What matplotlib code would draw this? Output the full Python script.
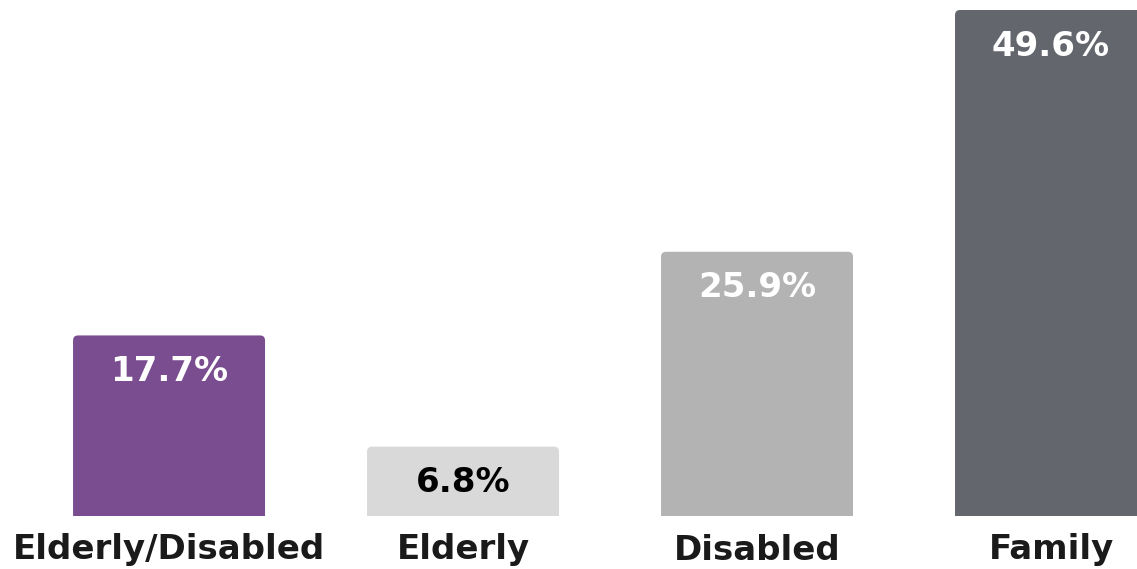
import matplotlib.pyplot as plt
from matplotlib.patches import FancyBboxPatch
from matplotlib.transforms import offset_copy

# Data
categories = ["Elderly/Disabled", "Elderly", "Disabled", "Family"]
shares = [17.7, 6.8, 25.9, 49.6]
labels = ["17.7%", "6.8%", "25.9%", "49.6%"]
bar_colors = ["#7a4d90", "#d9d9d9", "#b3b3b3", "#63666d"]
text_colors = ["white", "black", "white", "white"]

plt.rcParams["font.family"] = ["DejaVu Sans"]

fig = plt.figure(figsize=(11.37, 5.69), dpi=100)
ax = fig.add_axes([0, 53 / 569, 1, 516 / 569])

x = range(len(categories))
width = 0.653
bars = ax.bar(x, shares, width=width, color=bar_colors)

ax.set_xlim(-0.575, 3.2925)
ax.set_ylim(0, 49.6 * 516 / 506)

# replace plain bars with slightly rounded ones (bottom hidden below axis)
for b, c in zip(bars, bar_colors):
    b.set_visible(False)
    p = FancyBboxPatch((b.get_x(), -2), b.get_width(), b.get_height() + 2,
                       boxstyle="round,pad=0,rounding_size=0.017",
                       mutation_aspect=29, facecolor=c, edgecolor="none")
    ax.add_patch(p)

# value labels inside bars
for i, (v, lab, tc) in enumerate(zip(shares, labels, text_colors)):
    tr = offset_copy(ax.transData, fig=fig, x=0, y=-36, units="dots")
    ax.text(i, v, lab, transform=tr, ha="center", va="center",
            fontsize=24.5, fontweight="bold", color=tc)

# category labels below bars
for i, cat in enumerate(categories):
    tr = offset_copy(ax.transData, fig=fig, x=0, y=-34, units="dots")
    ax.text(i, 0, cat, transform=tr, ha="center", va="center",
            fontsize=24.5, fontweight="bold", color="#1a1a1a", clip_on=False)

ax.axis("off")

plt.savefig("out.png", dpi=100)
